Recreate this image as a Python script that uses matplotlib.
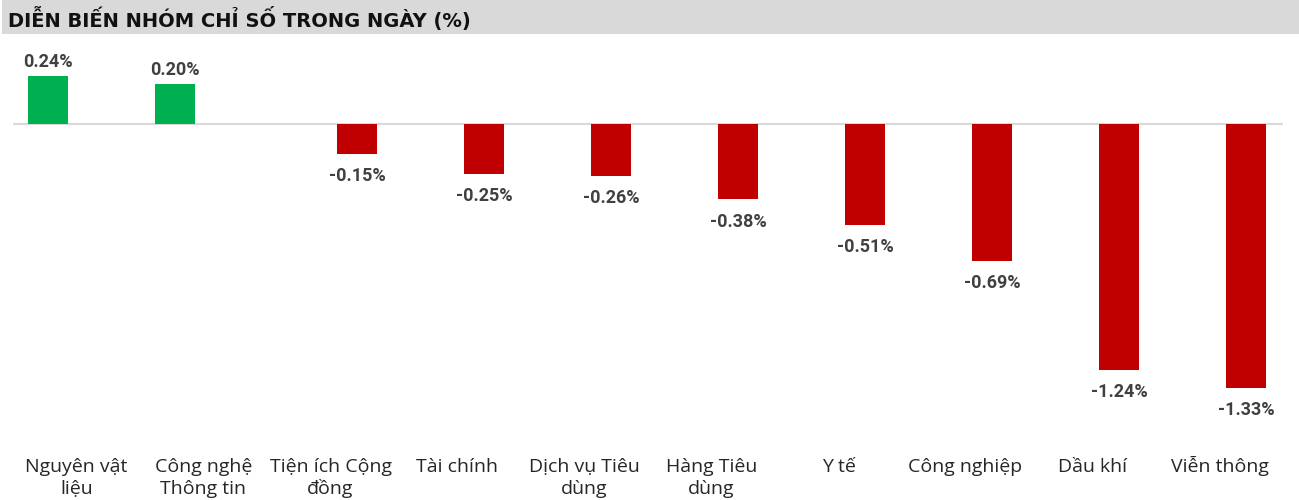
import numpy as np
import matplotlib
matplotlib.use("Agg")
import matplotlib.pyplot as plt
from matplotlib.patches import Rectangle
from matplotlib.transforms import blended_transform_factory

# ---- data ----
categories = ["Nguyên vật\nliệu", "Công nghệ\nThông tin", "Tiện ích Cộng\nđồng",
              "Tài chính", "Dịch vụ Tiêu\ndùng", "Hàng Tiêu\ndùng", "Y tế",
              "Công nghiệp", "Dầu khí", "Viễn thông"]
values = [0.24, 0.20, -0.15, -0.25, -0.26, -0.38, -0.51, -0.69, -1.24, -1.33]

GREEN = "#00B050"
RED = "#C00000"
LABEL_INK = "#404040"
GRID = "#D9D9D9"

W, H = 1299, 500
fig = plt.figure(figsize=(W / 100, H / 100), dpi=100)
fig.patch.set_facecolor("white")

# title bar
fig.patches.append(Rectangle((2 / W, 1 - 34 / H), 1 - 2 / W, 34 / H,
                             transform=fig.transFigure, facecolor=GRID,
                             edgecolor="none", zorder=0))
fig.text(8 / W, 1 - 19 / H, "DIỄN BIẾN NHÓM CHỈ SỐ TRONG NGÀY (%)",
         ha="left", va="center", fontsize=14, fontweight="bold",
         family="DejaVu Sans", color="#111111")

# axes: left 13px, right 1283px, top 40px, bottom 450px
ax = fig.add_axes([13 / W, 50 / H, 1270 / W, 410 / H])
ax.set_facecolor("none")

vals = np.array(values)
x = np.arange(len(vals))
pos = np.where(vals > 0, vals, np.nan)
neg = np.where(vals < 0, vals, np.nan)
off_pos, off_neg = 0.225, 0.21
bw = 0.315
ax.bar(x - off_pos, pos, width=bw, color=GREEN, zorder=2)
ax.bar(x + off_neg, neg, width=bw, color=RED, zorder=2)
ax.axhline(0, color=GRID, lw=1.5, zorder=1)

for xi, v in zip(x, vals):
    if v > 0:
        ax.annotate(f"{v:.2f}%", (xi - off_pos, v), xytext=(0, 4),
                    textcoords="offset points", ha="center", va="bottom",
                    fontsize=13, fontweight="bold", family="Roboto",
                    color=LABEL_INK)
    else:
        ax.annotate(f"{v:.2f}%", (xi + off_neg, v), xytext=(0, -9.5),
                    textcoords="offset points", ha="center", va="top",
                    fontsize=13, fontweight="bold", family="Roboto",
                    color=LABEL_INK)

# category labels, one text per line so baselines line up
tr = blended_transform_factory(ax.transData, fig.transFigure)
for xi, lab in zip(x, categories):
    for k, line in enumerate(lab.split("\n")):
        ax.text(xi, 1 - (472 + 21.5 * k) / H, line, transform=tr,
                ha="center", va="baseline", fontsize=14, family="Open Sans",
                color="#262626")

ax.set_xlim(-0.5, len(vals) - 0.5)
ax.set_ylim(-1.642, 0.423)
ax.set_xticks([])
ax.set_yticks([])
for s in ax.spines.values():
    s.set_visible(False)

fig.savefig("out.png", dpi=100)
